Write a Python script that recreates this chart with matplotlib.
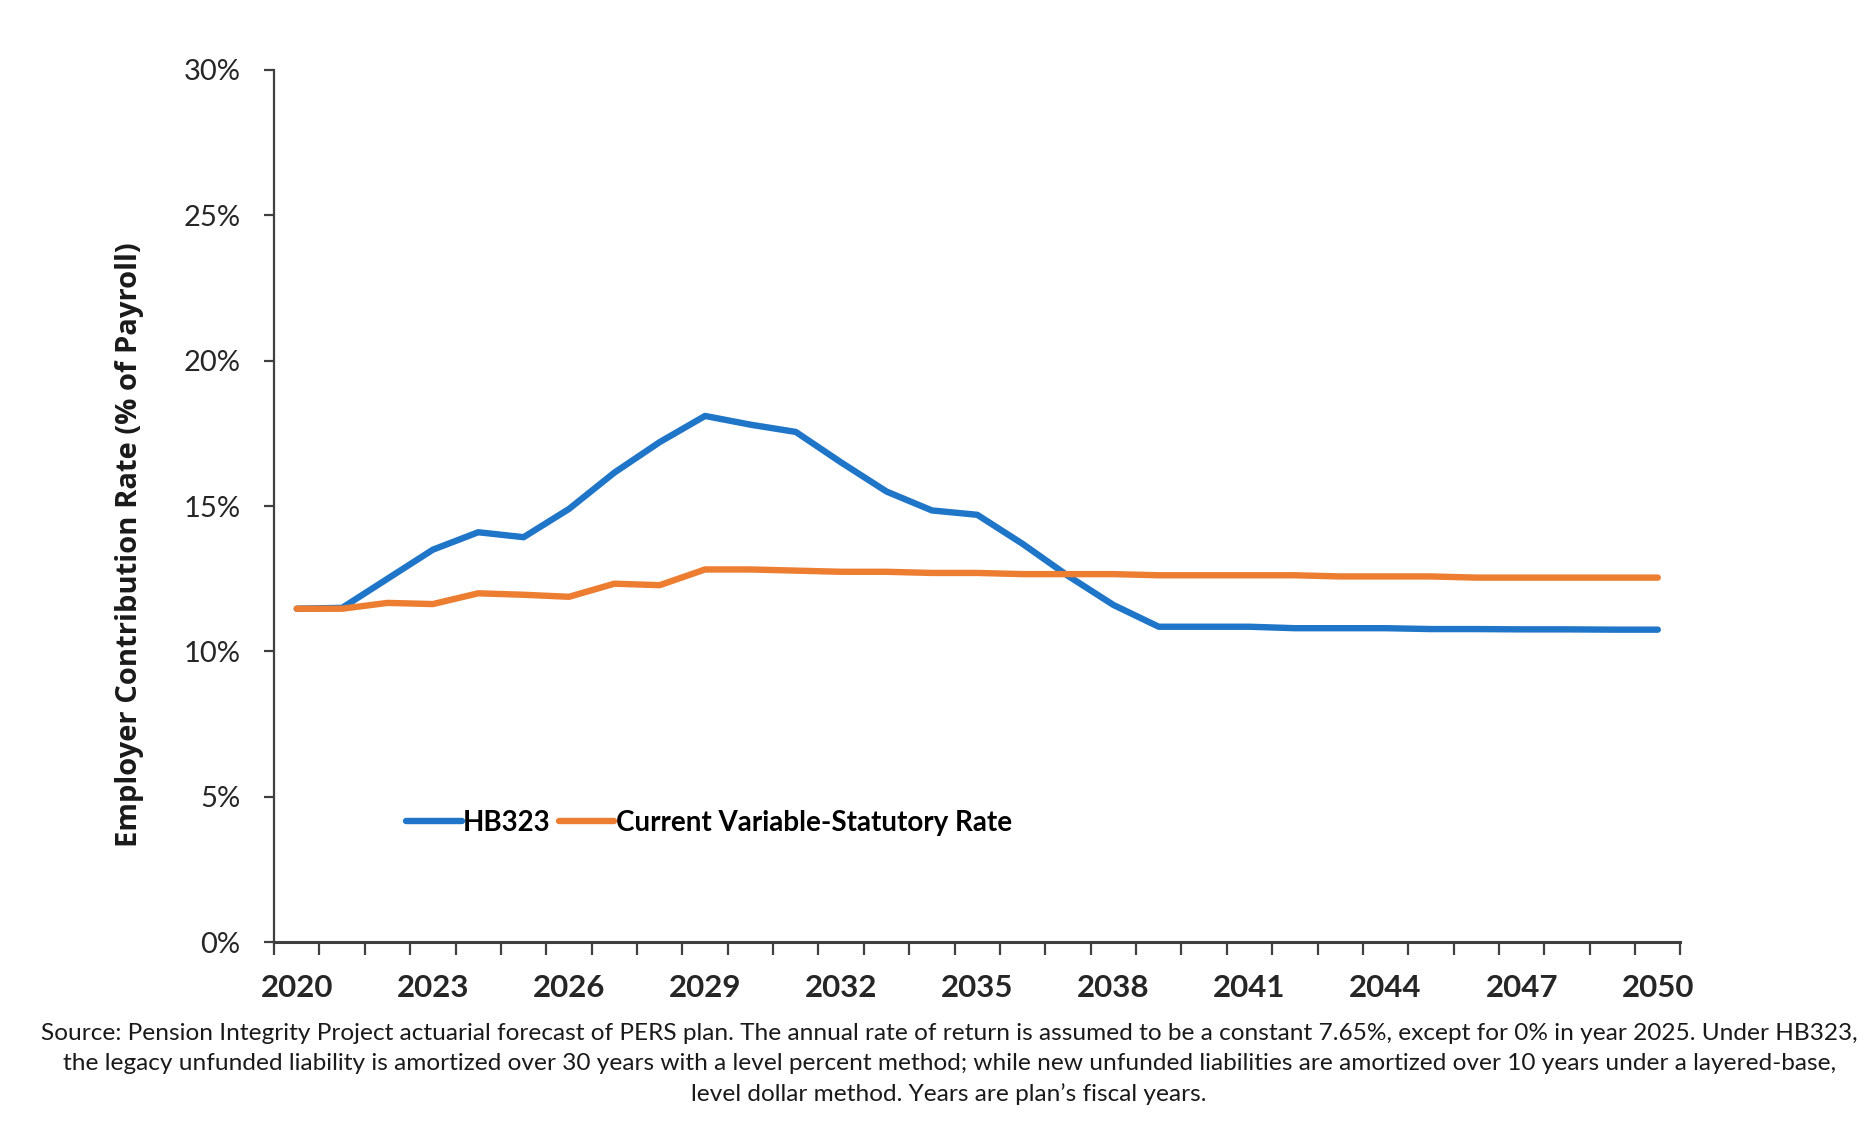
import matplotlib
matplotlib.use("Agg")
import matplotlib.pyplot as plt
from matplotlib.ticker import FixedLocator, FuncFormatter

years = list(range(2020, 2051))
hb323 = [11.47, 11.5, 12.5, 13.5, 14.1, 13.93, 14.9, 16.15, 17.2, 18.1,
         17.8, 17.55, 16.5, 15.5, 14.85, 14.7, 13.7, 12.6, 11.6, 10.85,
         10.85, 10.85, 10.8, 10.8, 10.8, 10.77, 10.77, 10.76, 10.76, 10.75, 10.75]
current = [11.47, 11.47, 11.67, 11.63, 12.0, 11.95, 11.88, 12.33, 12.28, 12.82,
           12.82, 12.78, 12.74, 12.74, 12.7, 12.7, 12.66, 12.66, 12.66, 12.62,
           12.62, 12.62, 12.62, 12.58, 12.58, 12.58, 12.54, 12.54, 12.54, 12.54, 12.54]
y_ticks = [0, 5, 10, 15, 20, 25, 30]
label_years = list(range(2020, 2051, 3))

series_names = ["HB323", "Current Variable-Statutory Rate"]
colors = ["#1F75C7", "#ED7D31"]

body = ["Lato", "DejaVu Sans"]

fig = plt.figure(figsize=(18.72, 11.28), dpi=100)
ax = fig.add_axes([0.1464, 0.1647, 0.7513, 0.7733])

x = list(range(len(years)))
ax.plot(x, hb323, color=colors[0], lw=4.6, label=series_names[0], solid_capstyle="round", zorder=3)
ax.plot(x, current, color=colors[1], lw=4.6, label=series_names[1], solid_capstyle="round", zorder=4)

ax.set_xlim(-0.5, len(years) - 0.5)
ax.set_ylim(0, 30)

for s in ["top", "right"]:
    ax.spines[s].set_visible(False)
ax.spines["left"].set_color("#404040")
ax.spines["left"].set_linewidth(1.6)
ax.spines["bottom"].set_color("#404040")
ax.spines["bottom"].set_linewidth(2.2)

ax.set_yticks(y_ticks)
ax.yaxis.set_major_formatter(FuncFormatter(lambda v, p: f"{int(v)}%"))
ax.tick_params(axis="y", direction="out", length=7, width=1.6, color="#404040",
               pad=17, labelsize=21, labelcolor="#262626")
for lab in ax.get_yticklabels():
    lab.set_family(body)

ax.xaxis.set_major_locator(FixedLocator([years.index(yv) for yv in label_years]))
ax.xaxis.set_major_formatter(FuncFormatter(lambda v, p: str(years[int(round(v))])))
ax.xaxis.set_minor_locator(FixedLocator([i - 0.5 for i in range(len(years) + 1)]))
ax.tick_params(axis="x", which="major", length=0, pad=23, labelsize=22.5, labelcolor="#262626")
ax.tick_params(axis="x", which="minor", direction="out", length=9, width=1.6, color="#404040")
for lab in ax.get_xticklabels():
    lab.set_family(body)
    lab.set_fontweight("bold")

fig.text(0.069, 0.517, "Employer Contribution Rate (% of Payroll)", rotation=90,
         ha="center", va="center", fontsize=21, fontweight="bold",
         family=["Open Sans", "DejaVu Sans"], color="#1a1a1a")

leg = ax.legend(loc="center left", bbox_to_anchor=(0.076, 0.137), ncol=2, frameon=False,
                handlelength=2.0, handletextpad=0.05, columnspacing=0.3,
                prop={"family": body, "weight": "bold", "size": 20})

footnote = ("Source: Pension Integrity Project actuarial forecast of PERS plan. The annual rate of return is assumed to be a constant 7.65%, except for 0% in year 2025. Under HB323,\n"
            "the legacy unfunded liability is amortized over 30 years with a level percent method; while new unfunded liabilities are amortized over 10 years under a layered-base,\n"
            "level dollar method. Years are plan\u2019s fiscal years.")
fig.text(0.507, 0.0567, footnote, ha="center", va="center", fontsize=17.6,
         family=body, linespacing=1.53, color="#1a1a1a")

fig.savefig("out.png", dpi=100)
